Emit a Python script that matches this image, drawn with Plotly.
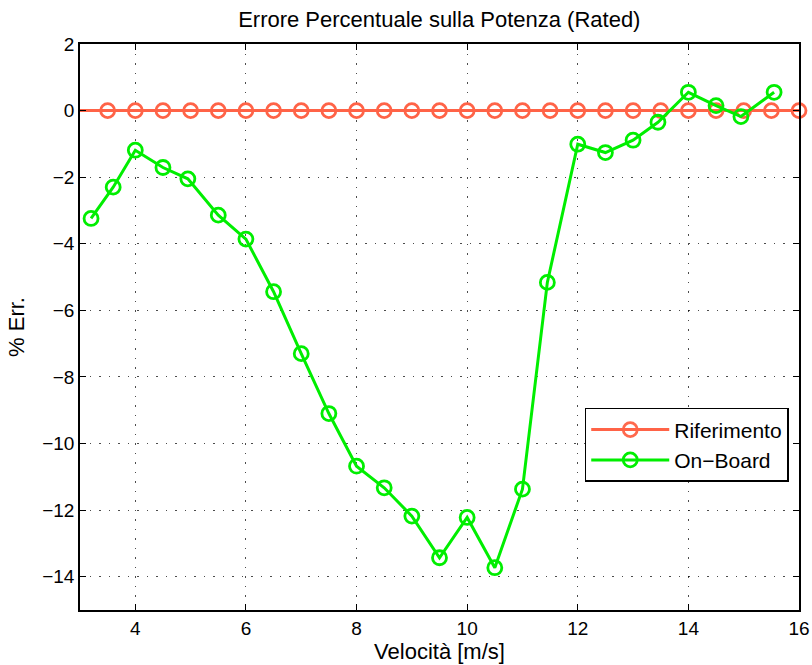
import plotly.graph_objects as go

# Data
rif_x = [3.0, 3.5, 4.0, 4.5, 5.0, 5.5, 6.0, 6.5, 7.0, 7.5, 8.0, 8.5, 9.0, 9.5, 10.0,
         10.5, 11.0, 11.5, 12.0, 12.5, 13.0, 13.5, 14.0, 14.5, 15.0, 15.5, 16.0]
rif_y = [0.0] * len(rif_x)

onb_x = [3.2, 3.6, 4.0, 4.5, 4.95, 5.5, 6.0, 6.5, 7.0, 7.5, 8.0, 8.5, 9.0, 9.5, 10.0,
         10.5, 11.0, 11.45, 12.0, 12.5, 13.0, 13.45, 14.0, 14.5, 14.95, 15.55]
onb_y = [-3.24, -2.30, -1.19, -1.71, -2.05, -3.14, -3.86, -5.44, -7.30, -9.10, -10.68,
         -11.33, -12.18, -13.43, -12.22, -13.73, -11.37, -5.16, -1.01, -1.26, -0.89,
         -0.35, 0.55, 0.15, -0.18, 0.55]

x_ticks = [4, 6, 8, 10, 12, 14, 16]
y_ticks = [2, 0, -2, -4, -6, -8, -10, -12, -14]

RED = "#FF6347"
GREEN = "#00EE00"
FONT = "Liberation Sans, Arial, sans-serif"

fig = go.Figure()
fig.add_trace(go.Scatter(
    x=rif_x, y=rif_y, mode="lines+markers", name="Riferimento",
    line=dict(color=RED, width=3),
    marker=dict(symbol="circle-open", size=14, color=RED, line=dict(width=2.8),
                opacity=[0] + [1] * (len(rif_x) - 1)),
    cliponaxis=False,
))
fig.add_trace(go.Scatter(
    x=onb_x, y=onb_y, mode="lines+markers", name="On\u2212Board",
    line=dict(color=GREEN, width=3),
    marker=dict(symbol="circle-open", size=14, color=GREEN, line=dict(width=2.8)),
    cliponaxis=False,
))

axis_common = dict(
    showline=True, linecolor="black", linewidth=1.5, mirror="ticks",
    ticks="inside", ticklen=6, tickcolor="black", tickwidth=1,
    showgrid=True, gridcolor="rgba(0,0,0,0.7)", griddash="1.5px,8px", gridwidth=1,
    zeroline=False, tickfont=dict(family=FONT, size=19, color="black"),
    automargin=False,
)

fig.update_layout(
    width=812, height=665,
    margin=dict(l=80, r=13, t=44, b=55, autoexpand=False),
    paper_bgcolor="white", plot_bgcolor="white",
    font=dict(family=FONT, color="black"),
    title=dict(text="Errore Percentuale sulla Potenza (Rated)", x=0.541, xanchor="center",
               y=1 - 19 / 665, yanchor="middle", yref="container",
               font=dict(family=FONT, size=22, color="black")),
    xaxis=dict(range=[3, 16], tickvals=x_ticks, **axis_common,
               title=dict(text="Velocità [m/s]", font=dict(family=FONT, size=22), standoff=4)),
    yaxis=dict(range=[-15, 2], tickvals=y_ticks, **axis_common,
               title=dict(text="% Err.", font=dict(family=FONT, size=22), standoff=12)),
    legend=dict(x=0.702, y=0.357, xanchor="left", yanchor="top",
                bgcolor="white", bordercolor="black", borderwidth=1.5,
                font=dict(family=FONT, size=21, color="black"),
                itemwidth=78, tracegroupgap=0),
    showlegend=True,
)

fig.write_html("out.html")
